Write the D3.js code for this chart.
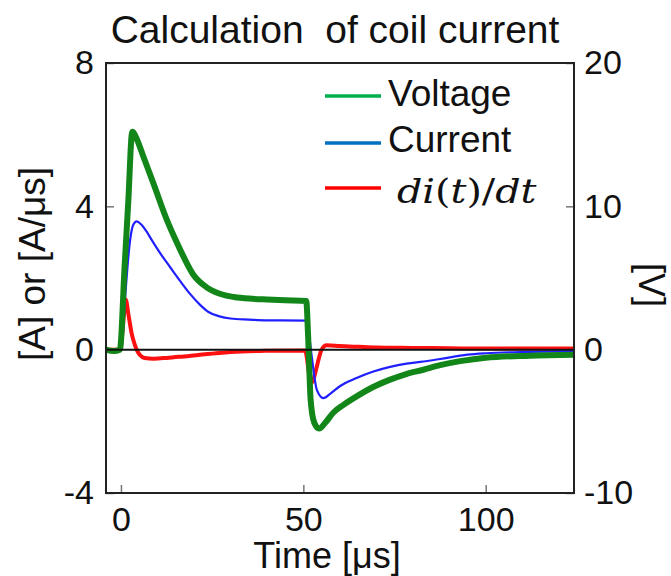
<!DOCTYPE html>
<html><head><meta charset="utf-8">
<script src="https://cdn.jsdelivr.net/npm/d3@7"></script>
<style>
html,body{margin:0;padding:0;background:#fff;}
svg{display:block;font-family:"Liberation Sans",Arial,sans-serif;}
</style></head>
<body><svg id="chart" width="671" height="576"></svg>
<script>
// ---- data ----
const timeVoltage = [-4.1,-2,-0.3,1,2,3.1,4.5,6.1,8.9,12.5,16.2,19.8,23.5,27.1,31,36,40,45,50.8,51.3,52,53,54.3,56,58.2,61,64.6,69,73.8,78,82.9,87.5,93,100,112,124.2];
const voltage     = [0,-0.1,0,5.8,10.3,15.2,14.6,13.5,11.6,9.1,7.0,5.25,4.35,3.9,3.67,3.55,3.5,3.45,3.4,1.0,-3.5,-5.1,-5.5,-5.1,-4.4,-3.85,-3.26,-2.62,-2.09,-1.72,-1.4,-1.08,-0.8,-0.56,-0.42,-0.35];

const timeCurrent = [-4.1,-0.3,0.3,1.1,2.5,3.4,4.3,5.5,7,8.5,10.7,13.5,16.2,19,21.7,24,27,30,35,40,50.8,51.5,52.3,53.7,55.5,57.5,60,64.6,69.2,73.8,78.3,82.9,87.5,95,100,112,124.2];
const current     = [0,0,0.2,1.4,3.05,3.49,3.58,3.5,3.3,3.05,2.7,2.3,1.92,1.55,1.25,1.05,0.93,0.87,0.84,0.82,0.81,0.45,-0.19,-1.12,-1.35,-1.22,-1.02,-0.79,-0.61,-0.48,-0.39,-0.33,-0.26,-0.14,-0.1,-0.06,-0.04];

const timeDidt = [-4.1,-0.2,0.5,1.3,2.1,2.9,3.6,4.3,5.2,6.5,9,12.5,16,21.7,27,33,40,50.5,51,51.4,52.3,53,53.7,55,56.4,60,65,70,80,90,100,112,124.2];
const didt     = [0,0,0.6,1.4,0.95,0.47,0.2,0,-0.15,-0.23,-0.25,-0.23,-0.2,-0.14,-0.09,-0.05,-0.03,-0.02,-0.25,-0.56,-0.93,-0.75,-0.47,0,0.12,0.1,0.08,0.06,0.05,0.04,0.03,0.03,0.03];

const xTicks = [0,50,100];
const yLeftTicks = [-4,0,4,8];
const yRightTicks = [-10,0,10,20];
const legendLabels = ["Voltage","Current"];

// ---- layout ----
const svg = d3.select("#chart");
const L=106, R=574, T=63, B=493;
const x = d3.scaleLinear().domain([-4.1,124.2]).range([L,R]);
const yL = d3.scaleLinear().domain([-4,8]).range([B,T]);
const yR = d3.scaleLinear().domain([-10,20]).range([B,T]);
const fmt = d => String(d);

// title
svg.append("text").attr("x",335).attr("y",43).attr("text-anchor","middle")
  .attr("font-size",39).attr("fill","#111").style("white-space","pre")
  .attr("xml:space","preserve").text("Calculation  of coil current");

// axes
const axB = svg.append("g").attr("transform",`translate(0,${B})`)
  .call(d3.axisBottom(x).tickValues(xTicks).tickFormat(fmt).tickSizeInner(-8).tickSizeOuter(0).tickPadding(14));
const axL = svg.append("g").attr("transform",`translate(${L},0)`)
  .call(d3.axisLeft(yL).tickValues(yLeftTicks).tickFormat(fmt).tickSizeInner(-8).tickSizeOuter(0).tickPadding(12));
const axR = svg.append("g").attr("transform",`translate(${R},0)`)
  .call(d3.axisRight(yR).tickValues(yRightTicks).tickFormat(fmt).tickSizeInner(-8).tickSizeOuter(0).tickPadding(10));
[axB,axL,axR].forEach(a=>{
  a.select(".domain").remove();
  a.selectAll(".tick line").attr("stroke","#777").attr("stroke-width",1.5);
  a.selectAll(".tick text").attr("font-size",34).attr("fill","#111")
    .attr("font-family","'Liberation Sans',Arial,sans-serif");
});

// curves
const lineOf = (ts, vs, ys) => d3.line().x((d,i)=>x(ts[i])).y((d,i)=>ys(vs[i])).curve(d3.curveMonotoneX)(vs);
svg.append("path").attr("d",lineOf(timeDidt,didt,yL)).attr("fill","none")
  .attr("stroke","#ff1010").attr("stroke-width",4).attr("stroke-linejoin","round");
svg.append("path").attr("d",lineOf(timeCurrent,current,yL)).attr("fill","none")
  .attr("stroke","#2020ff").attr("stroke-width",2.2).attr("stroke-linejoin","round");
svg.append("path").attr("d",lineOf(timeVoltage,voltage,yR)).attr("fill","none")
  .attr("stroke","#13861a").attr("stroke-width",6).attr("stroke-linejoin","round");

// zero line
svg.append("line").attr("x1",L).attr("x2",R).attr("y1",yL(0)).attr("y2",yL(0))
  .attr("stroke","#111").attr("stroke-width",2);

// frame
svg.append("rect").attr("x",L).attr("y",T).attr("width",R-L).attr("height",B-T)
  .attr("fill","none").attr("stroke","#222").attr("stroke-width",2);

// legend
const legColors = ["#00b050","#0070c0","#ff0000"];
const legY = [96,143,188];
legColors.forEach((c,i)=>{
  svg.append("line").attr("x1",325).attr("x2",381).attr("y1",legY[i]).attr("y2",legY[i])
    .attr("stroke",c).attr("stroke-width",3.5);
});
svg.append("text").attr("x",388).attr("y",106).attr("font-size",37).attr("fill","#111").text(legendLabels[0]);
svg.append("text").attr("x",388).attr("y",152).attr("font-size",37).attr("fill","#111").text(legendLabels[1]);
const dt = svg.append("text").attr("transform","translate(397,203) scale(1.2,1)").attr("font-size",33)
  .attr("font-family","'DejaVu Serif','Liberation Serif',serif").attr("fill","#111");
dt.append("tspan").attr("font-style","italic").text("di");
dt.append("tspan").text("(");
dt.append("tspan").attr("font-style","italic").text("t");
dt.append("tspan").text(")/");
dt.append("tspan").attr("font-style","italic").text("dt");

// axis labels
svg.append("text").attr("x",327).attr("y",568).attr("text-anchor","middle")
  .attr("font-size",36).attr("fill","#111").text("Time [μs]");
svg.append("text").attr("transform","translate(45,264) rotate(-90)").attr("text-anchor","middle")
  .attr("font-size",37).attr("fill","#111").text("[A] or [A/μs]");
svg.append("text").attr("transform","translate(639,285) rotate(90)").attr("text-anchor","middle")
  .attr("font-size",36).attr("fill","#111").text("[V]");
</script></body></html>
